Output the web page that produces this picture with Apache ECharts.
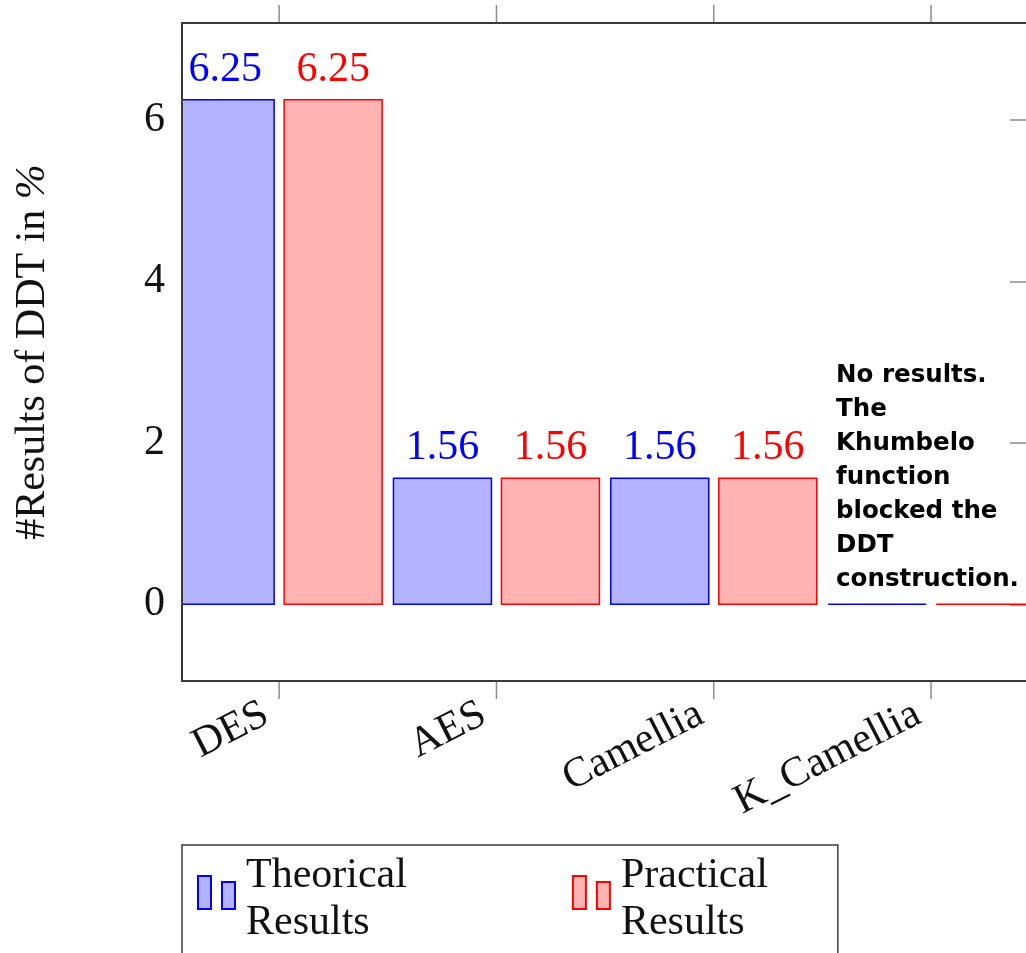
<!DOCTYPE html>
<html>
<head>
<meta charset="utf-8">
<script src="https://cdn.jsdelivr.net/npm/echarts@6/dist/echarts.min.js"></script>
<style>
  html, body { margin: 0; padding: 0; background: #fff; }
  #chart { width: 1026px; height: 953px; }
</style>
</head>
<body>
<div id="chart"></div>
<script>
// Ciphers compared and their DDT results (%)
const categories = ['DES', 'AES', 'Camellia', 'K_Camellia'];
const theorical = [6.25, 1.56, 1.56, 0];
const practical = [6.25, 1.56, 1.56, 0];
const seriesNames = ['Theorical Results', 'Practical Results'];
const yTitle = '#Results of DDT in {i|%}';
const noResultNote = 'No results.\nThe\nKhumbelo\nfunction\nblocked the\nDDT\nconstruction.';

const SERIF = '"Liberation Serif", "DejaVu Serif", serif';
const TICK_GRAY = '#8c8c8c';
const FRAME = '#3a3a3a';
const BAR_W = 98;      // bar width in px
const BAR_GAP = 10;    // gap between the two bars of a group
const BAR_COLORS = [
  { fill: '#b3b3ff', stroke: '#0000ff' },
  { fill: '#ffb3b3', stroke: '#ff0000' }
];

const chart = echarts.init(document.getElementById('chart'), null, { renderer: 'canvas' });

// Bars drawn through the axes' scales and clipped to the plot frame
function barRenderer(side, color, withNote) {
  return function (params, api) {
    const cs = params.coordSys;
    const idx = api.value(0), val = api.value(1);
    const base = api.coord([idx, 0]);
    const head = api.coord([idx, val]);
    const cx = base[0] + side * (BAR_W + BAR_GAP) / 2;
    const shape = echarts.graphic.clipRectByRect(
      { x: cx - BAR_W / 2, y: Math.min(base[1], head[1]), width: BAR_W, height: Math.abs(base[1] - head[1]) },
      { x: cs.x, y: cs.y, width: cs.width, height: cs.height }
    );
    const children = [];
    if (shape) {
      children.push({ type: 'rect', shape: shape, style: api.style() });
    }
    if (val !== 0) {
      children.push({
        type: 'text', x: cx, y: head[1] - 9,
        style: {
          text: val.toFixed(2), fill: color, align: 'center', verticalAlign: 'bottom',
          fontFamily: SERIF, fontSize: 42
        }
      });
    } else if (withNote) {
      children.push({
        type: 'text', x: cx - BAR_W / 2 + 8, y: base[1] - 8,
        style: {
          text: noResultNote, fill: '#000', align: 'left', verticalAlign: 'bottom',
          fontFamily: '"DejaVu Sans", sans-serif', fontWeight: 'bold', fontSize: 24.5, lineHeight: 34
        }
      });
    }
    return { type: 'group', children: children };
  };
}

const option = {
  animation: false,
  textStyle: { fontFamily: SERIF },
  grid: {
    left: 182, top: 23, width: 846, height: 658, z: 5,
    outerBoundsMode: 'none',
    containLabel: false,
    show: true, borderColor: FRAME, borderWidth: 2, backgroundColor: 'transparent'
  },
  legend: {
    data: seriesNames,
    left: 182, top: 845,
    orient: 'horizontal',
    padding: [1, 70, 22, 15],
    itemGap: 165,
    itemWidth: 37, itemHeight: 47,
    icon: 'path://M0,0 L13,0 L13,33 L0,33 Z M24,6 L37,6 L37,33 L24,33 Z M0,47',
    borderColor: FRAME, borderWidth: 1.5,
    formatter: name => name.replace(' ', '\n'),
    textStyle: {
      fontFamily: SERIF, fontSize: 42, lineHeight: 47, color: '#111',
      padding: [13, 0, 0, 6]
    },
    selectedMode: false
  },
  xAxis: {
    type: 'value',
    min: -0.447, max: 3.446,
    axisLine: { show: false },
    axisTick: { show: false },
    axisLabel: { show: false },
    splitLine: { show: false }
  },
  yAxis: [
    {
      type: 'value',
      min: -0.95, max: 7.2,
      position: 'left',
      axisLine: { show: false },
      axisTick: { show: false },
      splitLine: { show: false },
      axisLabel: {
        showMinLabel: false, showMaxLabel: false,
        margin: 17, fontFamily: SERIF, fontSize: 42, color: '#111'
      },
      name: yTitle,
      nameLocation: 'middle',
      nameRotate: 90,
      nameGap: 128,
      nameTextStyle: {
        fontFamily: SERIF, fontSize: 42, color: '#111',
        rich: { i: { fontFamily: SERIF, fontSize: 42, fontStyle: 'italic', color: '#111' } }
      }
    },
    {
      type: 'value',
      min: -0.95, max: 7.2,
      position: 'right',
      axisLine: { show: false },
      axisTick: { show: true, inside: true, length: 18, lineStyle: { color: TICK_GRAY, width: 1.5 } },
      axisLabel: { show: false },
      splitLine: { show: false }
    }
  ],
  series: [
    {
      name: seriesNames[0],
      type: 'custom',
      data: theorical.map((v, i) => [i, v]),
      itemStyle: { color: BAR_COLORS[0].fill, borderColor: BAR_COLORS[0].stroke, borderWidth: 1.5 },
      renderItem: barRenderer(-1, BAR_COLORS[0].stroke, true),
      clip: false,
      z: 3
    },
    {
      name: seriesNames[1],
      type: 'custom',
      data: practical.map((v, i) => [i, v]),
      itemStyle: { color: BAR_COLORS[1].fill, borderColor: BAR_COLORS[1].stroke, borderWidth: 1.5 },
      renderItem: barRenderer(1, BAR_COLORS[1].stroke, false),
      clip: false,
      z: 3
    },
    {
      // category ticks (top and bottom) and slanted cipher names
      type: 'custom',
      silent: true,
      clip: false,
      data: categories.map((c, i) => [i, 0]),
      renderItem(params, api) {
        const cs = params.coordSys;
        const x = api.coord([api.value(0), 0])[0];
        const top = cs.y, bot = cs.y + cs.height;
        const tickStyle = { stroke: TICK_GRAY, lineWidth: 1.5 };
        return {
          type: 'group',
          children: [
            { type: 'line', shape: { x1: x, y1: top - 18, x2: x, y2: top }, style: tickStyle },
            { type: 'line', shape: { x1: x, y1: bot, x2: x, y2: bot + 18 }, style: tickStyle },
            {
              type: 'text',
              x: x - 13, y: bot + 31,
              rotation: 27 * Math.PI / 180,
              style: {
                text: categories[params.dataIndex],
                align: 'right', verticalAlign: 'middle',
                fontFamily: SERIF, fontSize: 42, fill: '#111'
              }
            }
          ]
        };
      }
    }
  ]
};

chart.setOption(option);
</script>
</body>
</html>
